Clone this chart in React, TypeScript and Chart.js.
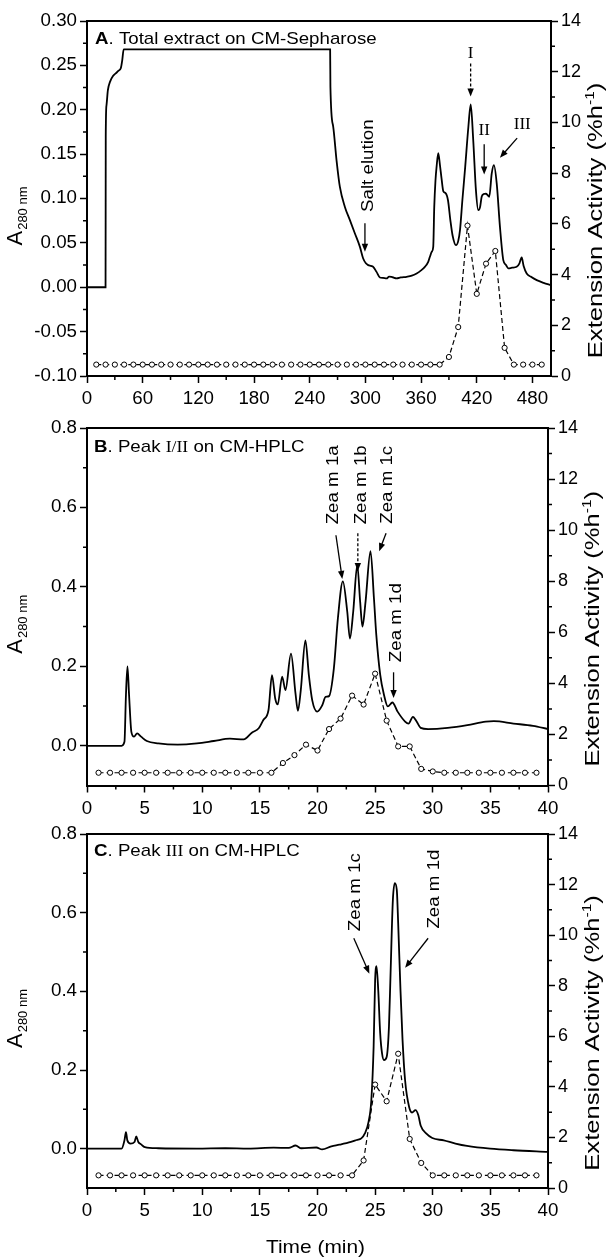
import React, { useEffect, useRef } from 'react';
import { Chart, registerables } from 'chart.js';

Chart.register(...registerables);

const SANS = '"Liberation Sans", Arial, Helvetica, sans-serif';
const SERIF = '"Liberation Serif", "Times New Roman", Times, serif';
const SX = 1.1;

// ---------------- Panel A: Total extract on CM-Sepharose ----------------
const A_TIME = [0, 20, 20.2, 21, 22.5, 25, 28, 31, 34, 36.5, 38, 39.5, 262, 262.3, 265.3, 268.9, 272.5, 277.9, 283.3, 288.7, 294.1, 297.6, 300.5, 303, 306, 308.4, 312, 315.6, 319, 322.8, 325.5, 328.2, 331, 333.6, 338, 344.4, 350, 355.2, 360, 364.1, 367.7, 369.5, 371.5, 373.1, 374.2, 375.5, 376.7, 378.5, 380.3, 382, 384, 386.4, 389, 391.5, 394, 397.6, 400, 402, 404.5, 407.5, 410.9, 413.5, 416.2, 419.1, 421.6, 423.5, 425.3, 427.5, 429.9, 431.5, 433.5, 436.1, 438.5, 441.5, 445, 448.6, 451.5, 454, 458, 463, 466, 468.4, 470.5, 473.8, 478, 484.6, 492, 500];
const A_ABS = [0, 0, 0.17, 0.205, 0.222, 0.232, 0.238, 0.241, 0.244, 0.247, 0.256, 0.268, 0.268, 0.226, 0.181, 0.143, 0.113, 0.0905, 0.0756, 0.0606, 0.0455, 0.0324, 0.027, 0.0249, 0.024, 0.023, 0.0173, 0.011, 0.0105, 0.0099, 0.012, 0.0118, 0.0105, 0.0099, 0.011, 0.0118, 0.013, 0.0155, 0.019, 0.023, 0.0286, 0.0343, 0.04, 0.0455, 0.0906, 0.12, 0.1356, 0.151, 0.138, 0.123, 0.108, 0.106, 0.098, 0.076, 0.058, 0.0474, 0.052, 0.065, 0.098, 0.135, 0.18, 0.206, 0.1657, 0.1094, 0.0868, 0.09, 0.102, 0.105, 0.1056, 0.104, 0.102, 0.128, 0.1375, 0.117, 0.068, 0.0305, 0.025, 0.0212, 0.022, 0.023, 0.027, 0.0336, 0.024, 0.0155, 0.012, 0.008, 0.005, 0.0024];
const A_ACT_TIME = [10, 20, 30, 40, 50, 60, 70, 80, 90, 100, 110, 120, 130, 140, 150, 160, 170, 180, 190, 200, 210, 220, 230, 240, 250, 260, 270, 280, 290, 300, 310, 320, 330, 340, 350, 360, 370, 380, 390, 400, 410, 420, 430, 440, 450, 460, 470, 480, 490];
const A_ACT = [0.45, 0.45, 0.45, 0.45, 0.45, 0.45, 0.45, 0.45, 0.45, 0.45, 0.45, 0.45, 0.45, 0.45, 0.45, 0.45, 0.45, 0.45, 0.45, 0.45, 0.45, 0.45, 0.45, 0.45, 0.45, 0.45, 0.45, 0.45, 0.45, 0.45, 0.45, 0.45, 0.45, 0.45, 0.45, 0.45, 0.45, 0.45, 0.75, 1.93, 5.93, 3.24, 4.43, 4.93, 1.11, 0.45, 0.45, 0.45, 0.45];
const A_X_TICKS = [0, 60, 120, 180, 240, 300, 360, 420, 480];
const A_X_MINOR = [30, 90, 150, 210, 270, 330, 390, 450];
const A_Y_TICKS = [-0.1, -0.05, 0, 0.05, 0.1, 0.15, 0.2, 0.25, 0.3];
const A_Y_MINOR = [-0.075, -0.025, 0.025, 0.075, 0.125, 0.175, 0.225, 0.275];

// ---------------- Panel B: Peak I/II on CM-HPLC ----------------
const B_TIME = [0, 3.0, 3.25, 3.38, 3.51, 3.65, 3.85, 4.08, 4.35, 4.69, 5.19, 6.19, 7.87, 9.54, 11, 12.4, 13.6, 14.3, 14.9, 15.3, 15.75, 16.05, 16.33, 16.55, 16.93, 17.22, 17.7, 18.09, 18.3, 18.55, 18.95, 19.25, 19.54, 19.97, 20.41, 20.7, 21.0, 21.42, 21.77, 22.2, 22.58, 22.81, 23.1, 23.45, 23.7, 23.9, 24.17, 24.6, 24.9, 25.1, 25.44, 25.77, 26.1, 26.5, 26.95, 27.6, 27.9, 28.28, 28.6, 28.95, 29.6, 31.3, 33, 34.6, 35.3, 37, 38.7, 40];
const B_ABS = [0, 0, 0.01, 0.128, 0.2, 0.128, 0.035, 0.023, 0.031, 0.023, 0.012, 0.006, 0.003, 0.006, 0.012, 0.018, 0.016, 0.033, 0.044, 0.065, 0.09, 0.178, 0.119, 0.104, 0.174, 0.14, 0.232, 0.132, 0.088, 0.14, 0.265, 0.178, 0.115, 0.086, 0.102, 0.123, 0.125, 0.195, 0.321, 0.414, 0.338, 0.27, 0.338, 0.455, 0.363, 0.3, 0.363, 0.49, 0.37, 0.28, 0.179, 0.128, 0.099, 0.109, 0.086, 0.061, 0.056, 0.073, 0.061, 0.045, 0.042, 0.045, 0.052, 0.061, 0.062, 0.056, 0.05, 0.042];
const B_ACT_TIME = [1, 2, 3, 4, 5, 6, 7, 8, 9, 10, 11, 12, 13, 14, 15, 16, 17, 18, 19, 20, 21, 22, 23, 24, 25, 26, 27, 28, 29, 30, 31, 32, 33, 34, 35, 36, 37, 38, 39];
const B_ACT = [0.5, 0.5, 0.5, 0.5, 0.5, 0.5, 0.5, 0.5, 0.5, 0.5, 0.5, 0.5, 0.5, 0.5, 0.5, 0.5, 0.88, 1.19, 1.6, 1.37, 2.21, 2.62, 3.52, 3.17, 4.38, 2.54, 1.53, 1.53, 0.65, 0.55, 0.5, 0.5, 0.5, 0.5, 0.5, 0.5, 0.5, 0.5, 0.5];

// ---------------- Panel C: Peak III on CM-HPLC ----------------
const C_TIME = [0, 3.0, 3.25, 3.38, 3.5, 3.78, 4.12, 4.28, 4.45, 4.69, 5.02, 6.19, 9.5, 12, 14, 16.2, 17.5, 18.1, 18.6, 19.9, 20.4, 21.2, 21.9, 22.9, 23.4, 23.8, 24.1, 24.43, 24.67, 24.87, 25.0, 25.12, 25.27, 25.44, 25.6, 25.77, 26.0, 26.2, 26.34, 26.54, 26.71, 26.88, 27.0, 27.2, 27.38, 27.6, 27.95, 28.2, 28.5, 28.75, 28.95, 29.45, 29.96, 30.96, 31.97, 32.97, 34.98, 36.99, 40];
const C_ABS = [0, 0, 0.021, 0.042, 0.021, 0.013, 0.017, 0.031, 0.017, 0.011, 0.004, 0.001, 0, 0.001, 0, 0.0025, 0.002, 0.008, 0.001, 0.003, -0.002, 0.006, 0.01, 0.017, 0.022, 0.026, 0.038, 0.068, 0.123, 0.259, 0.429, 0.464, 0.403, 0.293, 0.242, 0.225, 0.233, 0.31, 0.446, 0.632, 0.675, 0.658, 0.573, 0.403, 0.276, 0.174, 0.106, 0.092, 0.098, 0.085, 0.059, 0.038, 0.027, 0.021, 0.013, 0.007, 0, -0.004, -0.008];
const C_ACT_TIME = [1, 2, 3, 4, 5, 6, 7, 8, 9, 10, 11, 12, 13, 14, 15, 16, 17, 18, 19, 20, 21, 22, 23, 24, 25, 26, 27, 28, 29, 30, 31, 32, 33, 34, 35, 36, 37, 38, 39];
const C_ACT = [0.5, 0.5, 0.5, 0.5, 0.5, 0.5, 0.5, 0.5, 0.5, 0.5, 0.5, 0.5, 0.5, 0.5, 0.5, 0.5, 0.5, 0.5, 0.5, 0.5, 0.5, 0.5, 0.5, 1.09, 4.09, 3.43, 5.31, 1.94, 0.99, 0.5, 0.5, 0.5, 0.5, 0.5, 0.5, 0.5, 0.5, 0.5, 0.5];

// shared axes for the HPLC panels and the activity axis
const HPLC_X_TICKS = [0, 5, 10, 15, 20, 25, 30, 35, 40];
const HPLC_X_MINOR = [2.5, 7.5, 12.5, 17.5, 22.5, 27.5, 32.5, 37.5];
const HPLC_Y_TICKS = [0, 0.2, 0.4, 0.6, 0.8];
const HPLC_Y_MINOR = [0.1, 0.3, 0.5, 0.7];
const ACT_TICKS = [0, 2, 4, 6, 8, 10, 12, 14];
const ACT_MINOR = [1, 3, 5, 7, 9, 11, 13];

const X_TITLE = 'Time (min)';
const Y_TITLE_MAIN = 'A';
const Y_TITLE_SUB = '280 nm';
const Y1_TITLE = 'Extension Activity (%h';
const Y1_TITLE_SUP = '-1';

type Ctx = CanvasRenderingContext2D;
type Seg = { t: string; bold?: boolean; serif?: boolean };
type P = (x: number, y: number) => [number, number];

function font(size: number, bold = false, serif = false) {
  return `${bold ? 'bold ' : ''}${size}px ${serif ? SERIF : SANS}`;
}

function text(ctx: Ctx, s: string, x: number, y: number, o: { size: number; align?: CanvasTextAlign; baseline?: CanvasTextBaseline; rot?: number; sx?: number; serif?: boolean; bold?: boolean }) {
  ctx.save();
  ctx.translate(x, y);
  if (o.rot) ctx.rotate(o.rot);
  ctx.scale(o.sx ?? SX, 1);
  ctx.font = font(o.size, o.bold, o.serif);
  ctx.textAlign = o.align ?? 'left';
  ctx.textBaseline = o.baseline ?? 'alphabetic';
  ctx.fillStyle = '#000';
  ctx.fillText(s, 0, 0);
  ctx.restore();
}

function vtext(ctx: Ctx, s: string, cx: number, cy: number, size = 17) {
  text(ctx, s, cx, cy, { size, align: 'center', baseline: 'middle', rot: -Math.PI / 2 });
}

function segs(ctx: Ctx, list: Seg[], x: number, y: number, size: number) {
  let cx = x;
  list.forEach((sg) => {
    const sz = sg.serif ? size - 1 : size;
    ctx.save();
    ctx.font = font(sz, sg.bold, sg.serif);
    const w = ctx.measureText(sg.t).width * SX;
    ctx.restore();
    text(ctx, sg.t, cx, y, { size: sz, bold: sg.bold, serif: sg.serif });
    cx += w;
  });
}

function arrow(ctx: Ctx, a: [number, number], b: [number, number], dash: number[] = []) {
  const [x1, y1] = a;
  const [x2, y2] = b;
  const ang = Math.atan2(y2 - y1, x2 - x1);
  const head = 8;
  const hw = 3.2;
  ctx.save();
  ctx.strokeStyle = '#000';
  ctx.fillStyle = '#000';
  ctx.lineWidth = 1.3;
  ctx.setLineDash(dash);
  ctx.beginPath();
  ctx.moveTo(x1, y1);
  ctx.lineTo(x2 - Math.cos(ang) * head * 0.7, y2 - Math.sin(ang) * head * 0.7);
  ctx.stroke();
  ctx.setLineDash([]);
  ctx.beginPath();
  ctx.moveTo(x2, y2);
  ctx.lineTo(x2 - head * Math.cos(ang) + hw * Math.sin(ang), y2 - head * Math.sin(ang) - hw * Math.cos(ang));
  ctx.lineTo(x2 - head * Math.cos(ang) - hw * Math.sin(ang), y2 - head * Math.sin(ang) + hw * Math.cos(ang));
  ctx.closePath();
  ctx.fill();
  ctx.restore();
}

interface PanelSpec {
  key: string;
  top: number;
  height: number;
  plotTop: number;
  plotBottom: number;
  plotLeft: number;
  plotRight: number;
  xMax: number;
  xTicks: number[];
  xMinor: number[];
  yMin: number;
  yMax: number;
  yTicks: number[];
  yMinor: number[];
  yDigits: number;
  time: number[];
  abs: number[];
  actTime: number[];
  act: number[];
  showXTitle: boolean;
  yTitleShift: number;
  annotate: (ctx: Ctx, p: P, ca: { left: number; right: number; top: number; bottom: number }) => void;
}

const W = 609;

const PANELS: PanelSpec[] = [
  {
    key: 'A', top: 0, height: 410, plotTop: 21, plotBottom: 376, plotLeft: 87, plotRight: 551,
    xMax: 500, xTicks: A_X_TICKS, xMinor: A_X_MINOR,
    yMin: -0.1, yMax: 0.3, yTicks: A_Y_TICKS, yMinor: A_Y_MINOR, yDigits: 2,
    time: A_TIME, abs: A_ABS, actTime: A_ACT_TIME, act: A_ACT, showXTitle: false, yTitleShift: 18,
    annotate: (ctx, p, ca) => {
      segs(ctx, [{ t: 'A', bold: true }, { t: '. Total extract on CM-Sepharose' }], ca.left + 8, ca.top + 22.5, 17);
      const [sx, sy] = p(303, 0.137);
      vtext(ctx, 'Salt elution', sx, sy);
      arrow(ctx, p(299.5, 0.072), p(299.5, 0.04));
      const [ix, iy] = p(413.4, 0.263);
      text(ctx, 'I', ix, iy, { size: 17, serif: true, align: 'center', baseline: 'middle', sx: 1 });
      arrow(ctx, p(413.4, 0.252), p(413.4, 0.215), [3, 2]);
      const [iix, iiy] = p(428, 0.177);
      text(ctx, 'II', iix, iiy, { size: 17, serif: true, align: 'center', baseline: 'middle', sx: 1 });
      arrow(ctx, p(428, 0.161), p(428, 0.127));
      const [iiix, iiiy] = p(469, 0.183);
      text(ctx, 'III', iiix, iiiy, { size: 17, serif: true, align: 'center', baseline: 'middle', sx: 1 });
      arrow(ctx, p(463.5, 0.168), p(445, 0.146));
    },
  },
  {
    key: 'B', top: 410, height: 410, plotTop: 18, plotBottom: 375.5, plotLeft: 87, plotRight: 548,
    xMax: 40, xTicks: HPLC_X_TICKS, xMinor: HPLC_X_MINOR,
    yMin: -0.1, yMax: 0.8, yTicks: HPLC_Y_TICKS, yMinor: HPLC_Y_MINOR, yDigits: 1,
    time: B_TIME, abs: B_ABS, actTime: B_ACT_TIME, act: B_ACT, showXTitle: false, yTitleShift: 18,
    annotate: (ctx, p, ca) => {
      segs(ctx, [{ t: 'B', bold: true }, { t: '. Peak ' }, { t: 'I/II', serif: true }, { t: ' on CM-HPLC' }], ca.left + 7, ca.top + 23.5, 17);
      let c = p(21.4, 0.657); vtext(ctx, 'Zea m 1a', c[0], c[1]);
      arrow(ctx, p(21.6, 0.53), p(22.15, 0.42));
      c = p(23.77, 0.657); vtext(ctx, 'Zea m 1b', c[0], c[1]);
      arrow(ctx, p(23.5, 0.535), p(23.5, 0.44), [3, 2]);
      c = p(26.1, 0.657); vtext(ctx, 'Zea m 1c', c[0], c[1]);
      arrow(ctx, p(25.95, 0.535), p(25.35, 0.49));
      c = p(26.8, 0.31); vtext(ctx, 'Zea m 1d', c[0], c[1]);
      arrow(ctx, p(26.6, 0.185), p(26.6, 0.12));
    },
  },
  {
    key: 'C', top: 820, height: 439, plotTop: 14, plotBottom: 368, plotLeft: 87, plotRight: 548,
    xMax: 40, xTicks: HPLC_X_TICKS, xMinor: HPLC_X_MINOR,
    yMin: -0.1, yMax: 0.8, yTicks: HPLC_Y_TICKS, yMinor: HPLC_Y_MINOR, yDigits: 1,
    time: C_TIME, abs: C_ABS, actTime: C_ACT_TIME, act: C_ACT, showXTitle: true, yTitleShift: 8,
    annotate: (ctx, p, ca) => {
      segs(ctx, [{ t: 'C', bold: true }, { t: '. Peak ' }, { t: 'III', serif: true }, { t: ' on CM-HPLC' }], ca.left + 7, ca.top + 22, 17);
      let c = p(23.26, 0.652); vtext(ctx, 'Zea m 1c', c[0], c[1]);
      arrow(ctx, p(23.15, 0.535), p(24.5, 0.445));
      c = p(30.1, 0.66); vtext(ctx, 'Zea m 1d', c[0], c[1]);
      arrow(ctx, p(29.6, 0.535), p(27.6, 0.46));
    },
  },
];

function makeDecor(spec: PanelSpec) {
  return {
    id: 'decor' + spec.key,
    afterDraw(chart: any) {
      const ctx: Ctx = chart.ctx;
      const ca = chart.chartArea;
      const xs = chart.scales.x;
      const ys = chart.scales.y;
      const y1 = chart.scales.y1;
      const p: P = (x, y) => [xs.getPixelForValue(x), ys.getPixelForValue(y)];
      ctx.save();
      ctx.strokeStyle = '#000';
      ctx.fillStyle = '#000';
      // top frame line
      ctx.lineWidth = 2;
      ctx.beginPath();
      ctx.moveTo(ca.left - 1, ca.top);
      ctx.lineTo(ca.right + 1, ca.top);
      ctx.stroke();
      // minor ticks
      ctx.lineWidth = 1.5;
      ctx.beginPath();
      spec.xMinor.forEach((v) => { const q = xs.getPixelForValue(v); ctx.moveTo(q, ca.bottom); ctx.lineTo(q, ca.bottom + 4); });
      spec.yMinor.forEach((v) => { const q = ys.getPixelForValue(v); ctx.moveTo(ca.left, q); ctx.lineTo(ca.left - 4, q); });
      ACT_MINOR.forEach((v) => { const q = y1.getPixelForValue(v); ctx.moveTo(ca.right, q); ctx.lineTo(ca.right + 4, q); });
      ctx.stroke();
      // tick labels
      spec.xTicks.forEach((v) => text(ctx, String(v), xs.getPixelForValue(v), ca.bottom + 28, { size: 18, align: 'center', sx: 1.04 }));
      spec.yTicks.forEach((v) => text(ctx, v.toFixed(spec.yDigits), ca.left - 10, ys.getPixelForValue(v), { size: 18, align: 'right', baseline: 'middle', sx: 1.04 }));
      ACT_TICKS.forEach((v) => text(ctx, String(v), ca.right + 10, y1.getPixelForValue(v), { size: 18, align: 'left', baseline: 'middle', sx: 1.0 }));
      // left axis title: A with subscript 280 nm
      {
        const cy = (ca.top + ca.bottom) / 2 + spec.yTitleShift;
        ctx.save();
        ctx.translate(22, cy);
        ctx.rotate(-Math.PI / 2);
        ctx.font = font(22);
        const wA = ctx.measureText(Y_TITLE_MAIN).width;
        ctx.font = font(13);
        const wS = ctx.measureText(Y_TITLE_SUB).width;
        const start = -(wA + wS) / 2;
        ctx.font = font(22);
        ctx.textBaseline = 'alphabetic';
        ctx.fillText(Y_TITLE_MAIN, start, 0);
        ctx.font = font(13);
        ctx.fillText(Y_TITLE_SUB, start + wA + 1, 5);
        ctx.restore();
      }
      // right axis title
      {
        const cy = (ca.top + ca.bottom) / 2 + 22;
        ctx.save();
        ctx.translate(ca.right + 51, cy);
        ctx.rotate(-Math.PI / 2);
        ctx.scale(1.28, 1);
        ctx.font = font(20);
        const w1 = ctx.measureText(Y1_TITLE).width;
        ctx.font = font(12);
        const w2 = ctx.measureText(Y1_TITLE_SUP).width;
        ctx.font = font(20);
        const w3 = ctx.measureText(')').width;
        const start = -(w1 + w2 + w3) / 2;
        ctx.textBaseline = 'alphabetic';
        ctx.fillText(Y1_TITLE, start, 0);
        ctx.font = font(12);
        ctx.fillText(Y1_TITLE_SUP, start + w1, -8);
        ctx.font = font(20);
        ctx.fillText(')', start + w1 + w2, 0);
        ctx.restore();
      }
      if (spec.showXTitle) {
        text(ctx, X_TITLE, (ca.left + ca.right) / 2 - 2, ca.bottom + 65, { size: 19, align: 'center' });
      }
      spec.annotate(ctx, p, ca);
      ctx.restore();
    },
  };
}

function Panel({ spec }: { spec: PanelSpec }) {
  const ref = useRef<HTMLCanvasElement>(null);
  useEffect(() => {
    const canvas = ref.current;
    if (!canvas) return;
    const absPts = spec.time.map((t, i) => ({ x: t, y: spec.abs[i] }));
    const actPts = spec.actTime.map((t, i) => ({ x: t, y: spec.act[i] }));
    const gridOpts = { display: true, drawOnChartArea: false, drawTicks: true, tickLength: 7, tickWidth: 1.5, tickColor: '#000', color: '#000' };
    const borderOpts = { display: true, color: '#000', width: 2 };
    const chart = new Chart(canvas, {
      type: 'line',
      data: {
        datasets: [
          {
            data: absPts, xAxisID: 'x', yAxisID: 'y', borderColor: '#000', borderWidth: 1.8,
            pointRadius: 0, cubicInterpolationMode: 'monotone', fill: false, order: 2,
          },
          {
            data: actPts, xAxisID: 'x', yAxisID: 'y1', borderColor: '#000', borderWidth: 1.2, borderDash: [5, 3],
            pointRadius: 2.6, pointBackgroundColor: '#fff', pointBorderColor: '#000', pointBorderWidth: 1,
            fill: false, order: 1,
          },
        ],
      } as any,
      options: {
        responsive: false,
        animation: false,
        devicePixelRatio: 1,
        events: [],
        layout: { padding: { top: spec.plotTop, left: 0, right: 0, bottom: 0 } },
        plugins: { legend: { display: false }, tooltip: { enabled: false } },
        scales: {
          x: {
            type: 'linear', position: 'bottom', min: 0, max: spec.xMax, bounds: 'data',
            afterBuildTicks: (s: any) => { s.ticks = spec.xTicks.map((v) => ({ value: v })); },
            afterFit: (s: any) => { s.height = spec.height - spec.plotBottom; },
            ticks: { display: false, autoSkip: false },
            grid: gridOpts, border: borderOpts,
          },
          y: {
            type: 'linear', position: 'left', min: spec.yMin, max: spec.yMax, bounds: 'data',
            afterBuildTicks: (s: any) => { s.ticks = spec.yTicks.map((v) => ({ value: v })); },
            afterFit: (s: any) => { s.width = spec.plotLeft; },
            ticks: { display: false, autoSkip: false },
            grid: gridOpts, border: borderOpts,
          },
          y1: {
            type: 'linear', position: 'right', min: 0, max: 14, bounds: 'data',
            afterBuildTicks: (s: any) => { s.ticks = ACT_TICKS.map((v) => ({ value: v })); },
            afterFit: (s: any) => { s.width = W - spec.plotRight; },
            ticks: { display: false, autoSkip: false },
            grid: gridOpts, border: borderOpts,
          },
        },
      } as any,
      plugins: [makeDecor(spec)],
    });
    return () => chart.destroy();
  }, [spec]);
  return (
    <canvas
      ref={ref}
      width={W}
      height={spec.height}
      style={{ position: 'absolute', left: 0, top: spec.top, width: W, height: spec.height }}
    />
  );
}

export default function App() {
  return (
    <div style={{ position: 'absolute', left: 0, top: 0, width: W, height: 1259, background: '#fff' }}>
      {PANELS.map((s) => (
        <Panel key={s.key} spec={s} />
      ))}
    </div>
  );
}
